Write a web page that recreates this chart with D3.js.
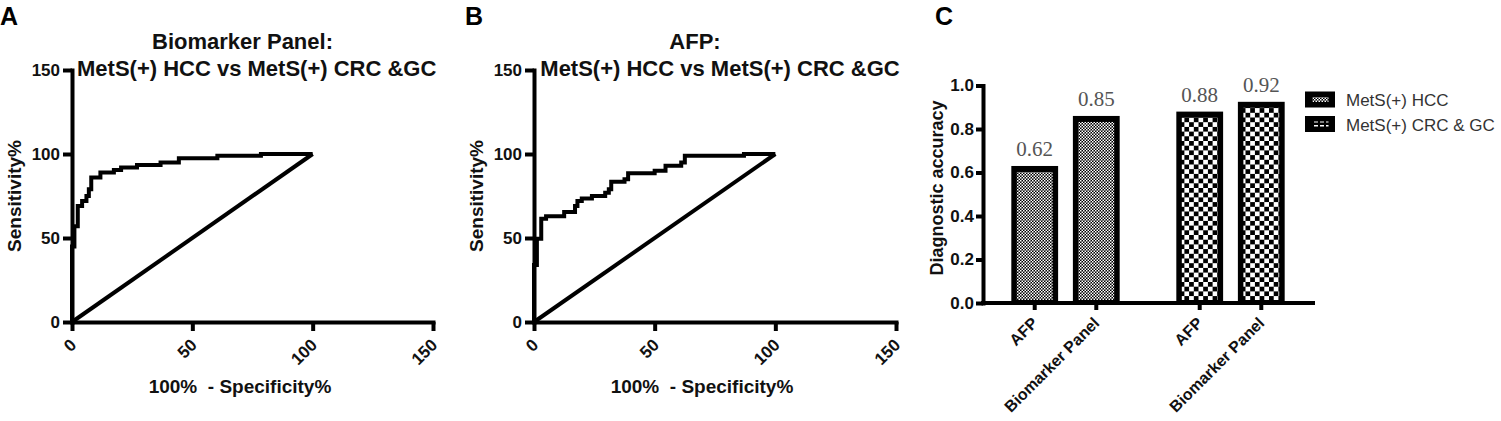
<!DOCTYPE html>
<html>
<head>
<meta charset="utf-8">
<script src="https://cdn.jsdelivr.net/npm/d3@7"></script>
<style>
body { margin: 0; background: #fff; }
svg { display: block; font-family: "Liberation Sans", Arial, sans-serif; }
</style>
</head>
<body>
<svg width="1501" height="421"></svg>
<script>
// ROC steps: [100% - specificity, sensitivity after the rise]
const rocBiomarker = [[0, 0], [0, 45], [1, 57], [2.4, 69], [4.2, 72], [6, 75], [7, 79], [8, 86],
    [11.8, 89], [17.4, 90.5], [20.4, 92], [27, 93.5], [36.8, 95], [44.4, 97.5], [60.4, 99],
    [78.5, 100], [100, 100]];
const rocAfp = [[0, 0], [0, 34], [1.2, 49.5], [3, 61.5], [5, 63], [12.5, 65.5], [17, 69], [18, 72],
    [19.8, 73.5], [24, 75], [29.5, 77], [31, 79], [32, 83.5], [37.5, 85], [39, 88.5], [50, 90],
    [54.5, 93], [61, 95], [62.5, 99], [87, 100], [100, 100]];
const chanceLine = [[0, 0], [100, 100]];
const rocTicks = [0, 50, 100, 150];

const groups = ["MetS(+) HCC", "MetS(+) CRC & GC"];
const markers = ["AFP", "Biomarker Panel"];
const hccAccuracy = [0.63, 0.86];
const crcAccuracy = [0.88, 0.925];
const hccLabels = ["0.62", "0.85"];
const crcLabels = ["0.88", "0.92"];
const accuracyTicks = [0, 0.2, 0.4, 0.6, 0.8, 1.0];

const svg = d3.select("svg");
const boldFont = "bold";

// patterns
const defs = svg.append("defs");
const fine = defs.append("pattern").attr("id", "fine")
    .attr("patternUnits", "userSpaceOnUse").attr("width", 3).attr("height", 3);
fine.append("rect").attr("width", 3).attr("height", 3).attr("fill", "black");
fine.append("rect").attr("width", 1.5).attr("height", 1.5).attr("fill", "white");
fine.append("rect").attr("x", 1.5).attr("y", 1.5).attr("width", 1.5).attr("height", 1.5).attr("fill", "white");

const coarse = defs.append("pattern").attr("id", "coarse")
    .attr("patternUnits", "userSpaceOnUse").attr("width", 9.4).attr("height", 9.4);
coarse.append("rect").attr("width", 9.4).attr("height", 9.4).attr("fill", "black");
coarse.append("rect").attr("width", 4.7).attr("height", 4.7).attr("fill", "white");
coarse.append("rect").attr("x", 4.7).attr("y", 4.7).attr("width", 4.7).attr("height", 4.7).attr("fill", "white");

const dashes = defs.append("pattern").attr("id", "dashes")
    .attr("patternUnits", "userSpaceOnUse").attr("width", 6).attr("height", 5);
dashes.append("rect").attr("width", 6).attr("height", 5).attr("fill", "black");
dashes.append("rect").attr("width", 4).attr("height", 2.5).attr("fill", "white");

const groupFills = ["url(#fine)", "url(#coarse)"];
const legendFills = ["url(#fine)", "url(#dashes)"];

const styleAxis = (g, size) => {
    g.select(".domain").attr("stroke-width", 4).attr("stroke-linecap", "square");
    g.selectAll(".tick line").attr("stroke-width", 4);
    g.selectAll(".tick text").attr("font-size", size).attr("font-weight", boldFont)
        .attr("font-family", "'Liberation Sans', Arial, sans-serif").attr("fill", "#111");
};

// panel letters
[["A", 0], ["B", 465], ["C", 935]].forEach(([t, x]) => {
    svg.append("text").attr("x", x).attr("y", 25).attr("font-size", 25)
        .attr("font-weight", boldFont).text(t);
});

// ROC panels
const rocPanels = [
    {x0: 72, x1: 433, data: rocBiomarker, title: ["Biomarker Panel:", "MetS(+) HCC vs MetS(+) CRC &GC"], titleX: [170.5, 184.7]},
    {x0: 534, x1: 896, data: rocAfp, title: ["AFP:", "MetS(+) HCC vs MetS(+) CRC &GC"], titleX: [161, 186]}
];

const drawRoc = (p) => {
    let x = d3.scaleLinear().domain([0, 150]).range([p.x0, p.x1]);
    let y = d3.scaleLinear().domain([0, 150]).range([322, 70]);

    svg.append("g")
        .attr("transform", `translate(${p.x0},0)`)
        .call(d3.axisLeft(y).tickValues(rocTicks).tickSize(9).tickSizeOuter(0).tickPadding(3))
        .call(g => styleAxis(g, 17));

    svg.append("g")
        .attr("transform", "translate(0,322)")
        .call(d3.axisBottom(x).tickValues(rocTicks).tickSize(9).tickSizeOuter(0))
        .call(g => styleAxis(g, 17))
        .call(g => g.selectAll(".tick text")
            .attr("x", null).attr("y", null).attr("dy", null)
            .attr("text-anchor", "end")
            .attr("transform", "translate(5,24) rotate(-45)"));

    let line = d3.line().x(d => x(d[0])).y(d => y(d[1]));

    svg.append("path")
        .attr("d", line(chanceLine))
        .attr("fill", "none").attr("stroke", "black").attr("stroke-width", 4);

    svg.append("path")
        .attr("d", line.curve(d3.curveStepAfter)(p.data))
        .attr("fill", "none").attr("stroke", "black").attr("stroke-width", 4)
        .attr("stroke-linejoin", "miter");

    p.title.forEach((t, i) => {
        svg.append("text")
            .attr("x", p.x0 + p.titleX[i]).attr("y", i == 0 ? 49 : 76)
            .attr("text-anchor", "middle").attr("font-size", 22).attr("font-weight", boldFont)
            .attr("fill", "#111")
            .text(t);
    });

    svg.append("text")
        .attr("transform", `translate(${p.x0 - 51},196) rotate(-90)`)
        .attr("text-anchor", "middle").attr("font-size", 19).attr("font-weight", boldFont)
        .attr("fill", "#111")
        .text("Sensitivity%");

    svg.append("text")
        .attr("x", p.x0 + 168).attr("y", 393)
        .attr("text-anchor", "middle").attr("font-size", 19).attr("font-weight", boldFont)
        .attr("fill", "#111").style("white-space", "pre")
        .text("100%  - Specificity%");
};

rocPanels.forEach(drawRoc);

// bar panel
const yC = d3.scaleLinear().domain([0, 1]).range([303, 85.5]);
const outer = d3.scaleBand().domain(groups).range([983, 1313]);
const inner = d3.scaleBand().domain(markers).range([0, outer.bandwidth()])
    .paddingInner(0.24).paddingOuter(0.46);

const barData = [
    ...markers.map((m, i) => ({group: groups[0], marker: m, value: hccAccuracy[i], label: hccLabels[i], gi: 0})),
    ...markers.map((m, i) => ({group: groups[1], marker: m, value: crcAccuracy[i], label: crcLabels[i], gi: 1}))
];

const bars = svg.append("g").selectAll("g").data(barData).enter().append("g");

bars.append("rect")
    .attr("x", d => outer(d.group) + inner(d.marker))
    .attr("y", d => yC(d.value))
    .attr("width", inner.bandwidth())
    .attr("height", d => yC(0) - yC(d.value))
    .attr("fill", "black");

bars.append("rect")
    .attr("x", d => outer(d.group) + inner(d.marker) + 5.5)
    .attr("y", d => yC(d.value) + 6)
    .attr("width", inner.bandwidth() - 11)
    .attr("height", d => yC(0) - yC(d.value) - 9)
    .attr("fill", d => groupFills[d.gi]);

bars.append("text")
    .attr("x", d => outer(d.group) + inner(d.marker) + inner.bandwidth() / 2)
    .attr("y", d => yC(d.value) - 10)
    .attr("text-anchor", "middle")
    .attr("font-family", "'Liberation Serif', 'Times New Roman', serif")
    .attr("font-size", 21).attr("fill", "#555")
    .text(d => d.label);

svg.append("g")
    .attr("transform", "translate(983,0)")
    .call(d3.axisLeft(yC).tickValues(accuracyTicks).tickFormat(d3.format(".1f"))
        .tickSize(7).tickSizeOuter(0).tickPadding(2))
    .call(g => styleAxis(g, 17));

groups.forEach(gName => {
    svg.append("g")
        .attr("transform", `translate(${outer(gName)},303)`)
        .call(d3.axisBottom(inner).tickSize(7).tickSizeOuter(0))
        .call(g => styleAxis(g, 16))
        .call(g => g.select(".domain").remove())
        .call(g => g.selectAll(".tick text")
            .attr("x", null).attr("y", null).attr("dy", null)
            .attr("text-anchor", "end")
            .attr("transform", "translate(4,21) rotate(-45)"));
});

// one continuous baseline under both groups
svg.append("line")
    .attr("x1", outer.range()[0]).attr("x2", outer.range()[1])
    .attr("y1", yC(0)).attr("y2", yC(0))
    .attr("stroke", "black").attr("stroke-width", 4).attr("stroke-linecap", "square");

svg.append("text")
    .attr("transform", "translate(943,188) rotate(-90)")
    .attr("text-anchor", "middle").attr("font-size", 18).attr("font-weight", boldFont)
    .attr("fill", "#111")
    .text("Diagnostic accuracy");

// legend
groups.forEach((gName, i) => {
    let ly = 91.5 + i * 24.5;
    svg.append("rect").attr("x", 1305).attr("y", ly).attr("width", 30).attr("height", 16)
        .attr("fill", "black");
    svg.append("rect").attr("x", 1312.5).attr("y", ly + 5.5).attr("width", 16).attr("height", 5)
        .attr("fill", legendFills[i]);
    svg.append("text").attr("x", 1346).attr("y", ly + 14.5)
        .attr("font-size", 17).attr("fill", "#333")
        .text(gName);
});
</script>
</body>
</html>
